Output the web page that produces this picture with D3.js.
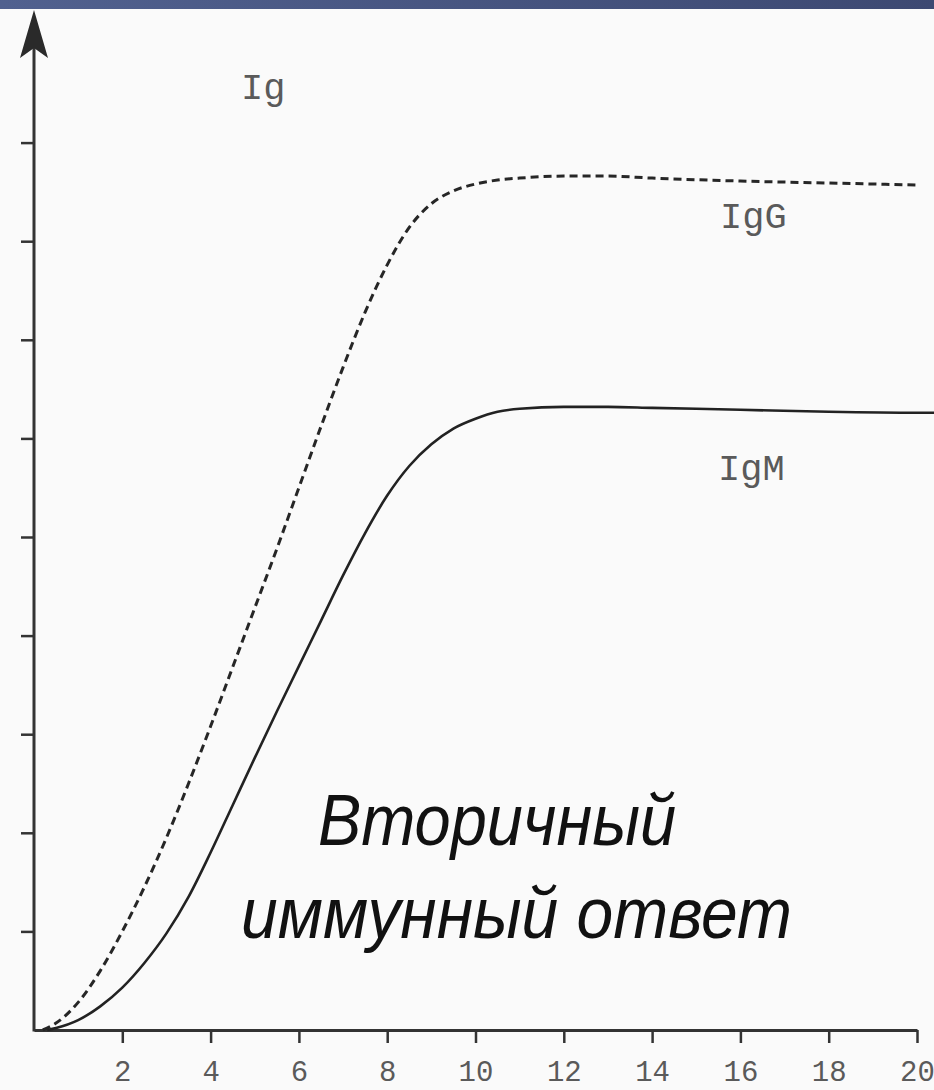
<!DOCTYPE html>
<html>
<head>
<meta charset="utf-8">
<script src="https://cdn.jsdelivr.net/npm/d3@7"></script>
<style>
  html, body { margin: 0; padding: 0; background: #fafafa; }
  svg { display: block; }
</style>
</head>
<body>
<svg id="chart" width="934" height="1090"></svg>
<script>
// ---- data ----
const xTicks = [2, 4, 6, 8, 10, 12, 14, 16, 18, 20];
const yTicks = [1, 2, 3, 4, 5, 6, 7, 8, 9];

const igmDays   = [0.3, 0.5, 1, 1.5, 2, 2.5, 3, 3.5, 4, 4.5, 5, 5.5, 6, 6.5, 7, 7.5, 8, 8.5, 9, 9.5, 10, 10.5, 11, 12, 13, 14, 16, 18, 20, 20.4];
const igmValues = [0, 0.02, 0.1, 0.24, 0.43, 0.68, 0.98, 1.35, 1.8, 2.28, 2.76, 3.23, 3.69, 4.15, 4.61, 5.04, 5.42, 5.72, 5.94, 6.1, 6.2, 6.27, 6.3, 6.32, 6.32, 6.31, 6.29, 6.27, 6.26, 6.26];

const iggDays   = [0.2, 0.5, 1, 1.5, 2, 2.5, 3, 3.5, 4, 4.5, 5, 5.5, 6, 6.5, 7, 7.5, 8, 8.5, 9, 9.5, 10, 10.5, 11, 12, 13, 14, 16, 18, 20];
const iggValues = [0, 0.07, 0.28, 0.6, 1.0, 1.45, 1.95, 2.5, 3.08, 3.68, 4.28, 4.88, 5.5, 6.12, 6.72, 7.28, 7.76, 8.14, 8.38, 8.51, 8.58, 8.62, 8.64, 8.66, 8.66, 8.64, 8.61, 8.59, 8.57];

const labels = { yTitle: "Ig", igg: "IgG", igm: "IgM", line1: "Вторичный", line2: "иммунный ответ" };

// ---- drawing ----
const svg = d3.select("#chart");
const W = 934, H = 1090;

svg.append("rect").attr("width", W).attr("height", H).attr("fill", "#fafafa");

// top band
const defs = svg.append("defs");
const grad = defs.append("linearGradient").attr("id", "band").attr("x1", "0").attr("x2", "1");
grad.append("stop").attr("offset", "0").attr("stop-color", "#51618f");
grad.append("stop").attr("offset", "1").attr("stop-color", "#3d4972");
svg.append("rect").attr("x", 0).attr("y", 0).attr("width", W).attr("height", 9).attr("fill", "url(#band)");

const x = d3.scaleLinear().domain([0, 20]).range([34, 917]);
const y = d3.scaleLinear().domain([0, 10]).range([1030, 44]);

const axisColor = "#333";

// x axis
const xAxis = svg.append("g")
  .attr("transform", `translate(0,${y(0)})`)
  .call(d3.axisBottom(x).tickValues(xTicks).tickSize(13).tickPadding(17).tickSizeOuter(0));
xAxis.select(".domain").attr("stroke", axisColor).attr("stroke-width", 3);
xAxis.selectAll(".tick line").attr("stroke", axisColor).attr("stroke-width", 2.5);
xAxis.selectAll(".tick text")
  .attr("fill", "#5a5a5a")
  .style("font-family", "'Liberation Mono', 'Courier New', monospace")
  .style("font-size", "29px");

// y axis
const yAxis = svg.append("g")
  .attr("transform", `translate(${x(0)},0)`)
  .call(d3.axisLeft(y).tickValues(yTicks).tickSize(13).tickFormat(""));
yAxis.select(".domain").remove();
yAxis.selectAll(".tick line").attr("stroke", axisColor).attr("stroke-width", 2.5);

const x0 = x(0), tipY = 10;
svg.append("line")
  .attr("x1", x0).attr("x2", x0)
  .attr("y1", y(0) + 1.5).attr("y2", tipY + 30)
  .attr("stroke", axisColor).attr("stroke-width", 3);
svg.append("path")
  .attr("d", `M${x0},${tipY} L${x0 + 14},${tipY + 48} L${x0},${tipY + 38} L${x0 - 14},${tipY + 48} Z`)
  .attr("fill", "#2a2a2a");

// curves
const line = d3.line().x(d => x(d[0])).y(d => y(d[1])).curve(d3.curveMonotoneX);

svg.append("path")
  .datum(iggDays.map((d, i) => [d, iggValues[i]]))
  .attr("d", line)
  .attr("fill", "none")
  .attr("stroke", "#262626")
  .attr("stroke-width", 3)
  .attr("stroke-dasharray", "8,5");

svg.append("path")
  .datum(igmDays.map((d, i) => [d, igmValues[i]]))
  .attr("d", line)
  .attr("fill", "none")
  .attr("stroke", "#222")
  .attr("stroke-width", 2.6);

// labels
const mono = "'Liberation Mono', 'Courier New', monospace";
svg.append("text").attr("x", 241).attr("y", 99).text(labels.yTitle)
  .attr("fill", "#5a5a5a").style("font-family", mono).style("font-size", "37px");
svg.append("text").attr("x", 720).attr("y", 228).text(labels.igg)
  .attr("fill", "#5a5a5a").style("font-family", mono).style("font-size", "37px");
svg.append("text").attr("x", 718).attr("y", 480).text(labels.igm)
  .attr("fill", "#5a5a5a").style("font-family", mono).style("font-size", "37px");

const narrow = "'Liberation Sans Narrow', 'Arial Narrow', 'Liberation Sans', Arial, sans-serif";
svg.append("text").attr("x", 318).attr("y", 845).text(labels.line1)
  .attr("fill", "#111").style("font-family", narrow).style("font-style", "italic").style("font-size", "72px")
  .attr("textLength", 358).attr("lengthAdjust", "spacingAndGlyphs");
svg.append("text").attr("x", 241).attr("y", 938).text(labels.line2)
  .attr("fill", "#111").style("font-family", narrow).style("font-style", "italic").style("font-size", "72px")
  .attr("textLength", 551).attr("lengthAdjust", "spacingAndGlyphs");
</script>
</body>
</html>
